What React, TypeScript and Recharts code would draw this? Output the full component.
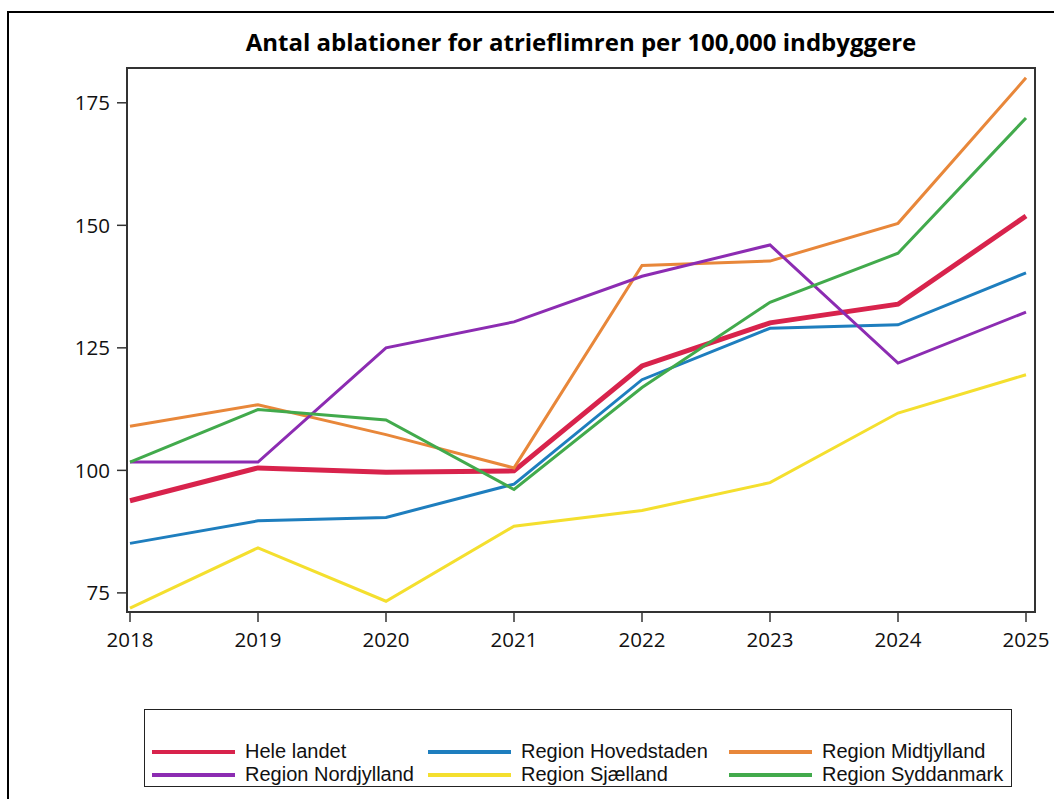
import React from 'react';
import { LineChart, Line, XAxis, YAxis, Legend } from 'recharts';

const years = [2018, 2019, 2020, 2021, 2022, 2023, 2024, 2025];
const heleLandet = [93.8, 100.5, 99.6, 99.9, 121.3, 130.1, 133.9, 151.9];
const hovedstaden = [85.1, 89.7, 90.4, 97.2, 118.5, 129.0, 129.7, 140.3];
const midtjylland = [109.0, 113.4, 107.3, 100.5, 141.8, 142.7, 150.4, 180.1];
const nordjylland = [101.7, 101.7, 125.0, 130.3, 139.6, 146.0, 121.9, 132.3];
const sjaelland = [71.9, 84.2, 73.3, 88.6, 91.8, 97.5, 111.7, 119.5];
const syddanmark = [101.7, 112.4, 110.3, 96.1, 116.9, 134.3, 144.3, 171.9];
const yTicks = [75, 100, 125, 150, 175];
const titleText = 'Antal ablationer for atrieflimren per 100,000 indbyggere';

const series = [
  { key: 'hele', name: 'Hele landet', values: heleLandet, color: '#D8234C', width: 5 },
  { key: 'hoved', name: 'Region Hovedstaden', values: hovedstaden, color: '#1E7EBE', width: 3 },
  { key: 'midt', name: 'Region Midtjylland', values: midtjylland, color: '#E8873A', width: 3 },
  { key: 'nord', name: 'Region Nordjylland', values: nordjylland, color: '#8C2CB2', width: 3 },
  { key: 'sjael', name: 'Region Sjælland', values: sjaelland, color: '#F4DF2E', width: 3 },
  { key: 'syd', name: 'Region Syddanmark', values: syddanmark, color: '#42AA4C', width: 3 },
];

const data = years.map((y, i) => {
  const row: Record<string, number> = { year: y };
  series.forEach((s) => {
    row[s.key] = s.values[i];
  });
  return row;
});

const tickFont = { fontFamily: '"Open Sans", sans-serif', fontSize: 20.5, fill: '#111' };
const axisColor = '#333';

const renderLegend = () => (
  <div
    style={{
      display: 'grid',
      gridTemplateColumns: '276px 301px auto',
      gridAutoRows: '23px',
      paddingTop: 30,
      paddingLeft: 7,
      boxSizing: 'border-box',
      width: '100%',
      height: '100%',
    }}
  >
    {series.map((s) => (
      <div key={s.key} style={{ display: 'flex', alignItems: 'center', height: 23 }}>
        <div style={{ width: 83, height: 4, background: s.color, marginRight: 10, flexShrink: 0 }} />
        <span
          style={{
            fontFamily: '"Liberation Sans", Arial, sans-serif',
            fontSize: 20,
            color: '#111',
            whiteSpace: 'nowrap',
            lineHeight: '23px',
          }}
        >
          {s.name}
        </span>
      </div>
    ))}
  </div>
);

const PLOT = { left: 127, top: 68, right: 1035, bottom: 612 };

export default function App() {
  const yW = 60;
  const xH = 50;
  return (
    <div
      style={{
        position: 'fixed',
        left: 0,
        top: 0,
        width: 1054,
        height: 799,
        overflow: 'hidden',
        background: '#fff',
      }}
    >
      <div
        style={{
          position: 'absolute',
          left: 7,
          top: 11,
          width: 1200,
          height: 1000,
          border: '2px solid #000',
        }}
      />
      <div
        style={{
          position: 'absolute',
          left: PLOT.left,
          width: PLOT.right - PLOT.left,
          top: 30,
          textAlign: 'center',
          fontFamily: '"Open Sans", sans-serif',
          fontWeight: 700,
          fontSize: 24,
          lineHeight: '24px',
          color: '#000',
          whiteSpace: 'nowrap',
        }}
      >
        {titleText}
      </div>
      <div style={{ position: 'absolute', left: 0, top: 0 }}>
        <LineChart
          width={1054}
          height={799}
          data={data}
          margin={{
            top: PLOT.top,
            right: 1054 - PLOT.right,
            bottom: 799 - PLOT.bottom - xH,
            left: PLOT.left - yW,
          }}
        >
          <XAxis
            dataKey="year"
            type="category"
            height={xH}
            padding={{ left: 3, right: 9 }}
            tickSize={10}
            tickMargin={10}
            tick={tickFont}
            axisLine={false}
            tickLine={{ stroke: axisColor, strokeWidth: 1.5 }}
            interval={0}
          />
          <YAxis
            type="number"
            width={yW}
            domain={[71.1, 182.1]}
            ticks={yTicks}
            allowDataOverflow
            tickSize={10}
            tickMargin={7}
            tick={tickFont}
            axisLine={false}
            tickLine={{ stroke: axisColor, strokeWidth: 1.5 }}
          />
          {series.map((s) => (
            <Line
              key={s.key}
              dataKey={s.key}
              name={s.name}
              type="linear"
              stroke={s.color}
              strokeWidth={s.width}
              dot={false}
              activeDot={false}
              isAnimationActive={false}
            />
          ))}
          <Legend
            layout="horizontal"
            verticalAlign="middle"
            align="center"
            content={renderLegend}
            wrapperStyle={{
              position: 'absolute',
              left: 144,
              top: 709,
              width: 868,
              height: 78,
              border: '1.5px solid #222',
              boxSizing: 'border-box',
              background: '#fff',
            }}
          />
        </LineChart>
      </div>
      <div
        style={{
          position: 'absolute',
          left: PLOT.left - 1,
          top: PLOT.top - 1,
          width: PLOT.right - PLOT.left + 2,
          height: PLOT.bottom - PLOT.top + 2,
          boxSizing: 'border-box',
          border: `2px solid ${axisColor}`,
          pointerEvents: 'none',
        }}
      />
    </div>
  );
}
